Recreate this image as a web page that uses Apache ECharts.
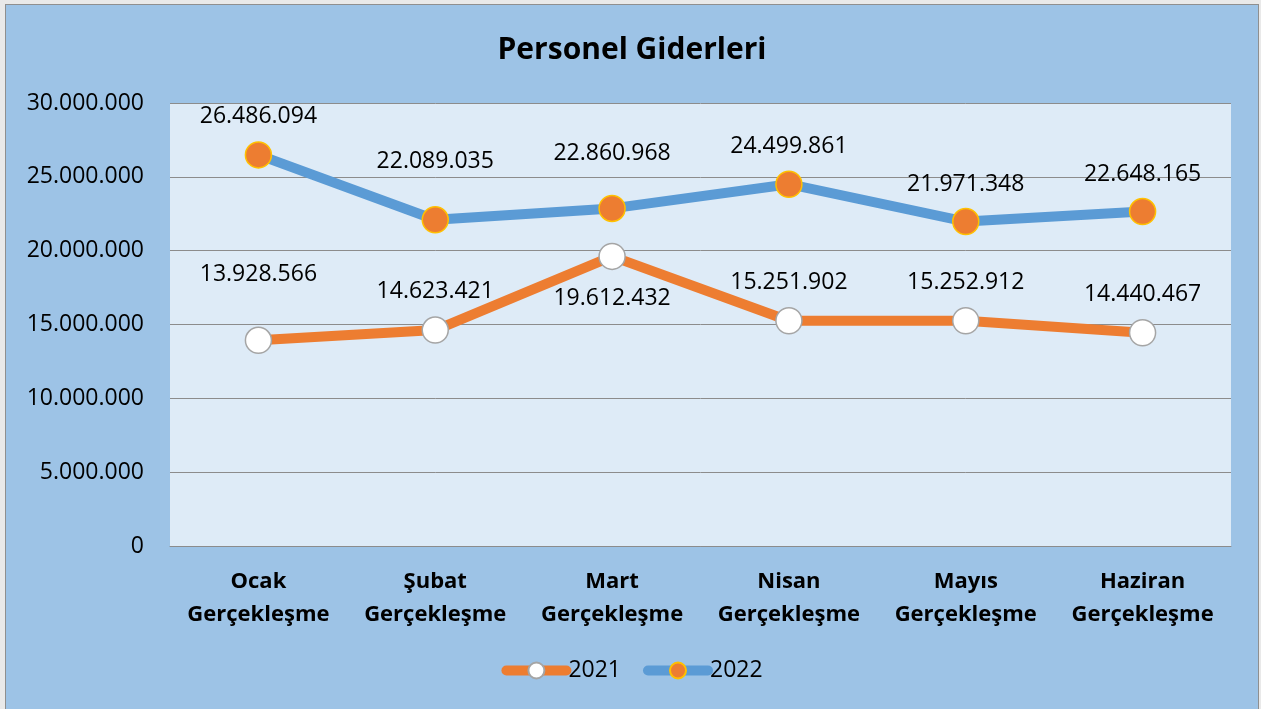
<!DOCTYPE html>
<html>
<head>
<meta charset="utf-8">
<script src="https://cdn.jsdelivr.net/npm/echarts@6/dist/echarts.min.js"></script>
<style>
  html, body { margin: 0; padding: 0; background: #e9e9e9; overflow: hidden; }
  #chart { position: absolute; left: 5px; top: 4px; width: 1252px; height: 704px;
           border-top: 1px solid #8f8f8f; border-left: 1px solid #8f8f8f; border-right: 1px solid #8f8f8f;
           background: #9dc3e6; }
</style>
</head>
<body>
<div id="chart"></div>
<script>
// veriler
var months = ['Ocak\nGerçekleşme', 'Şubat\nGerçekleşme', 'Mart\nGerçekleşme', 'Nisan\nGerçekleşme', 'Mayıs\nGerçekleşme', 'Haziran\nGerçekleşme'];
var data2021 = [13928566, 14623421, 19612432, 15251902, 15252912, 14440467];
var data2022 = [26486094, 22089035, 22860968, 24499861, 21971348, 22648165];
var yTicks = [0, 5000000, 10000000, 15000000, 20000000, 25000000, 30000000];

// etiket konumları (Excel'de elle kaydırılmış)
var pos2021 = ['top', 'top', 'bottom', 'top', 'top', 'top'];
var dist2021 = [41, 13, 17, 13, 13, 13];
var dist2022 = [13, 33, 30, 13, 12, 12];

function fmt(v) {
    return String(v).replace(/\B(?=(\d{3})+(?!\d))/g, '.');
}

var font = "'Open Sans', 'Noto Sans', sans-serif";

var chart = echarts.init(document.getElementById('chart'));
var option = {
    animation: false,
    textStyle: { fontFamily: font },
    title: {
        text: 'Personel Giderleri',
        left: 'center',
        top: 25,
        textStyle: { fontFamily: font, fontSize: 30, fontWeight: 'bold', color: '#000' }
    },
    legend: {
        bottom: 22,
        left: 'center',
        itemWidth: 60,
        itemHeight: 20,
        itemGap: 22,
        lineStyle: { width: 10, cap: 'round' },
        textStyle: { fontFamily: font, fontSize: 23, color: '#000', padding: [0, 0, 0, -3] },
        data: ['2021', '2022']
    },
    grid: {
        left: 164,
        top: 98,
        width: 1061,
        height: 443,
        show: true,
        backgroundColor: '#deebf7',
        borderWidth: 0
    },
    xAxis: {
        type: 'category',
        data: months,
        axisLine: { lineStyle: { color: '#8c8c8c', width: 1 } },
        axisTick: { show: false },
        axisLabel: {
            interval: 0,
            margin: 19,
            fontFamily: font,
            fontSize: 22,
            fontWeight: 'bold',
            color: '#000',
            lineHeight: 33
        }
    },
    yAxis: {
        type: 'value',
        min: 0,
        max: 30000000,
        interval: 5000000,
        axisLine: { show: false },
        axisTick: { show: false },
        splitLine: { lineStyle: { color: '#8c8c8c', width: 1 } },
        axisLabel: {
            margin: 26,
            fontFamily: font,
            fontSize: 23,
            color: '#000',
            formatter: function (v) { return yTicks.indexOf(v) >= 0 ? fmt(v) : ''; }
        }
    },
    series: [
        {
            name: '2021',
            type: 'line',
            data: data2021.map(function (v, i) {
                return { value: v, label: { position: pos2021[i], distance: dist2021[i] } };
            }),
            lineStyle: { color: '#ed7d31', width: 10 },
            itemStyle: { color: '#ffffff', borderColor: '#a5a5a5', borderWidth: 1.5 },
            symbol: 'circle',
            symbolSize: 26,
            z: 2,
            label: {
                show: true,
                fontFamily: font,
                fontSize: 23,
                color: '#000',
                formatter: function (p) { return fmt(p.value); }
            }
        },
        {
            name: '2022',
            type: 'line',
            data: data2022.map(function (v, i) {
                return { value: v, label: { distance: dist2022[i] } };
            }),
            lineStyle: { color: '#5b9bd5', width: 10 },
            itemStyle: { color: '#ed7d31', borderColor: '#ffc000', borderWidth: 1.5 },
            symbol: 'circle',
            symbolSize: 26,
            z: 3,
            label: {
                show: true,
                position: 'top',
                fontFamily: font,
                fontSize: 23,
                color: '#000',
                formatter: function (p) { return fmt(p.value); }
            }
        }
    ]
};
chart.setOption(option);
</script>
</body>
</html>
